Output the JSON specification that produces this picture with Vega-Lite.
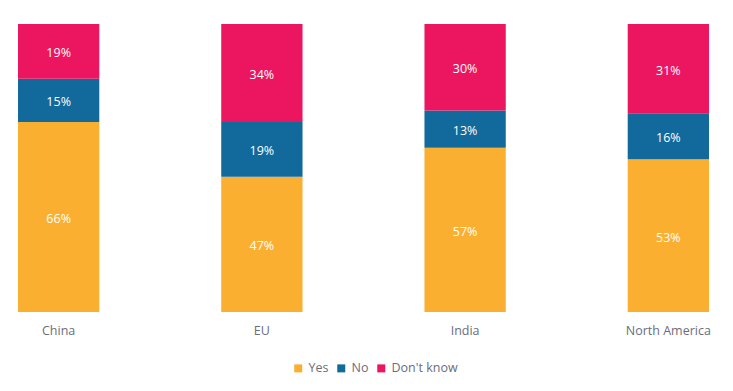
{
  "$schema": "https://vega.github.io/schema/vega-lite/v6.json",
  "autosize": "none",
  "width": 691,
  "height": 288,
  "padding": {"left": 18, "top": 24, "right": 24, "bottom": 79},
  "background": "white",
  "config": {"view": {"stroke": null}, "font": "Open Sans"},
  "data": {"values": [
    {"region": "China", "answer": "Yes", "pct": 66},
    {"region": "China", "answer": "No", "pct": 15},
    {"region": "China", "answer": "Don't know", "pct": 19},
    {"region": "EU", "answer": "Yes", "pct": 47},
    {"region": "EU", "answer": "No", "pct": 19},
    {"region": "EU", "answer": "Don't know", "pct": 34},
    {"region": "India", "answer": "Yes", "pct": 57},
    {"region": "India", "answer": "No", "pct": 13},
    {"region": "India", "answer": "Don't know", "pct": 30},
    {"region": "North America", "answer": "Yes", "pct": 53},
    {"region": "North America", "answer": "No", "pct": 16},
    {"region": "North America", "answer": "Don't know", "pct": 31}
  ]},
  "transform": [
    {"calculate": "indexof(['Yes','No',\"Don't know\"], datum.answer)", "as": "ord"},
    {"stack": "pct", "groupby": ["region"], "sort": [{"field": "ord", "order": "ascending"}], "as": ["y0", "y1"]},
    {"calculate": "(datum.y0 + datum.y1) / 2", "as": "ymid"},
    {"calculate": "datum.pct + '%'", "as": "label"}
  ],
  "encoding": {
    "x": {
      "field": "region", "type": "nominal",
      "sort": ["China", "EU", "India", "North America"],
      "scale": {"paddingInner": 0.6, "paddingOuter": 0},
      "axis": {"title": null, "domain": false, "ticks": false, "labelAngle": 0, "labelPadding": 12, "labelFontSize": 12.5, "labelColor": "#6b6d7c", "labelFont": "Open Sans"}
    }
  },
  "layer": [
    {
      "mark": {"type": "bar"},
      "encoding": {
        "y": {"field": "y0", "type": "quantitative", "scale": {"domain": [0, 100], "nice": false}, "axis": null},
        "y2": {"field": "y1"},
        "color": {
          "field": "answer", "type": "nominal",
          "scale": {"domain": ["Yes", "No", "Don't know"], "range": ["#FAAF30", "#12699C", "#EC1660"]},
          "legend": {"title": null, "orient": "none", "legendX": 274, "legendY": 338, "direction": "horizontal", "symbolType": "square", "symbolSize": 64, "symbolStrokeWidth": 0, "labelFontSize": 12.5, "labelColor": "#6b6d7c", "labelFont": "Open Sans", "columnPadding": 6, "labelOffset": 4}
        }
      }
    },
    {
      "mark": {"type": "text", "color": "white", "fontSize": 12.5, "font": "Open Sans", "dy": 2},
      "encoding": {
        "y": {"field": "ymid", "type": "quantitative", "scale": {"domain": [0, 100], "nice": false}},
        "text": {"field": "label", "type": "nominal"}
      }
    }
  ]
}
